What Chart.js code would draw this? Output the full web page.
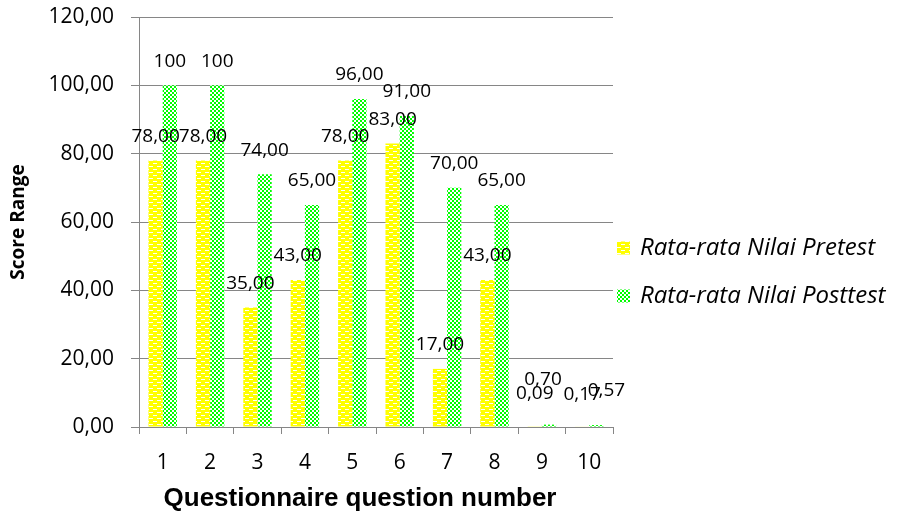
<!DOCTYPE html>
<html lang="id">
<head>
<meta charset="UTF-8">
<title>Rata-rata Nilai Pretest dan Posttest</title>
<script src="https://cdn.jsdelivr.net/npm/chart.js"></script>
<style>
    body { margin: 0; background: #fff; }
    #wrap { width: 901px; height: 520px; }
</style>
</head>
<body>
<div id="wrap"><canvas id="scoreChart" width="901" height="520"></canvas></div>
<script>
    // data
    const questions = ['1', '2', '3', '4', '5', '6', '7', '8', '9', '10'];
    const pretestScores = [78, 78, 35, 43, 78, 83, 17, 43, 0.09, 0.17];
    const posttestScores = [100, 100, 74, 65, 96, 91, 70, 65, 0.70, 0.57];
    const seriesNames = ['Rata-rata Nilai Pretest', 'Rata-rata Nilai Posttest'];
    const xTitleText = 'Questionnaire question number';
    const yTitleText = 'Score Range';
    const yMax = 120;
    const yStep = 20;

    // the tiny values at questions 9 and 10 have their labels pushed apart (dx, dy in px)
    const labelNudge = [
        { 8: [0, -9], 9: [0, -8] },
        { 8: [-6, -21], 9: [10, -10] }
    ];

    const gridGray = '#868686';
    const comma = v => v.toFixed(2).replace('.', ',');
    // the original shows the two 100s without decimals
    const labelText = v => (v === 100 ? '100' : comma(v));

    function makePattern(w, h, bg, fg, cells) {
        const c = document.createElement('canvas');
        c.width = w;
        c.height = h;
        const g = c.getContext('2d');
        g.fillStyle = bg;
        g.fillRect(0, 0, w, h);
        g.fillStyle = fg;
        cells.forEach(c => g.fillRect(c[0], c[1], c[2], c[3]));
        return g.createPattern(c, 'repeat');
    }

    // yellow with small white dashes, green/white checkerboard
    const yellowFill = makePattern(8, 6, '#ffff00', '#ffffff', [[1, 1, 4, 1], [5, 4, 3, 1], [0, 4, 1, 1]]);
    const greenFill = makePattern(4, 4, '#ffffff', '#00ff00', [[0, 0, 2, 2], [2, 2, 2, 2]]);

    // value labels above each bar
    const barLabels = {
        id: 'barLabels',
        afterDatasetsDraw(chart, args, opts) {
            const ctx = chart.ctx;
            ctx.save();
            ctx.font = opts.font;
            ctx.fillStyle = opts.color;
            ctx.textAlign = 'center';
            ctx.textBaseline = 'middle';
            chart.data.datasets.forEach((ds, di) => {
                const meta = chart.getDatasetMeta(di);
                const nudge = labelNudge[di] || {};
                meta.data.forEach((bar, i) => {
                    const d = nudge[i] || [0, 0];
                    ctx.fillText(labelText(ds.data[i]), bar.x + d[0], bar.y - opts.lift + d[1]);
                });
            });
            ctx.restore();
        }
    };

    // legend to the right of the plot
    const sideLegend = {
        id: 'sideLegend',
        afterDraw(chart, args, opts) {
            const ctx = chart.ctx;
            const x = chart.chartArea.right + opts.offsetX;
            ctx.save();
            ctx.font = opts.font;
            ctx.textBaseline = 'middle';
            chart.data.datasets.forEach((ds, i) => {
                const y = opts.y + i * opts.gap;
                ctx.fillStyle = ds.backgroundColor;
                ctx.fillRect(x, y - opts.box / 2, opts.box, opts.box);
                ctx.fillStyle = opts.color;
                ctx.fillText(ds.label, x + opts.box + opts.textGap, y);
            });
            ctx.restore();
        }
    };

    // x axis title, sits a little left of the plot centre in the original
    const xAxisTitle = {
        id: 'xAxisTitle',
        afterDraw(chart, args, opts) {
            const s = chart.scales.x;
            const ctx = chart.ctx;
            ctx.save();
            ctx.font = opts.font;
            ctx.fillStyle = opts.color;
            ctx.textAlign = 'center';
            ctx.textBaseline = 'middle';
            ctx.fillText(opts.text, (s.left + s.right) / 2 + opts.dx, s.bottom - opts.fromBottom);
            ctx.restore();
        }
    };

    Chart.defaults.font.family = "'Open Sans', sans-serif";
    Chart.defaults.color = '#000';

    new Chart(document.getElementById('scoreChart'), {
        type: 'bar',
        data: {
            labels: questions,
            datasets: [
                { label: seriesNames[0], data: pretestScores, backgroundColor: yellowFill, borderWidth: 0 },
                { label: seriesNames[1], data: posttestScores, backgroundColor: greenFill, borderWidth: 0 }
            ]
        },
        options: {
            responsive: false,
            animation: false,
            datasets: { bar: { categoryPercentage: 0.6, barPercentage: 1.0 } },
            layout: { padding: { top: 17, right: 288, bottom: 0, left: 0 } },
            scales: {
                x: {
                    grid: { drawOnChartArea: false, tickLength: 7, color: gridGray, offset: true },
                    border: { color: gridGray },
                    ticks: { padding: 16, font: { size: 21 } },
                    afterFit(scale) { scale.height = 93; }
                },
                y: {
                    min: 0,
                    max: yMax,
                    ticks: { stepSize: yStep, padding: 17, font: { size: 21 }, callback: v => comma(v) },
                    grid: { color: gridGray, tickLength: 8 },
                    border: { color: gridGray },
                    title: {
                        display: true,
                        text: yTitleText,
                        font: { weight: 'bold', size: 19 },
                        padding: { top: 7, bottom: 0 }
                    },
                    afterFit(scale) {
                        scale.width = 139;
                        // plot top is set by layout padding, not by the tick label padding
                        scale.paddingTop = 0;
                        scale.paddingBottom = 0;
                    }
                }
            },
            plugins: {
                legend: { display: false },
                tooltip: { enabled: false },
                barLabels: {
                    font: "19px 'Open Sans', sans-serif",
                    color: '#000',
                    lift: 24
                },
                sideLegend: {
                    font: "italic 24px 'Open Sans', sans-serif",
                    color: '#000',
                    offsetX: 4,
                    y: 248,
                    gap: 48,
                    box: 13,
                    textGap: 10
                },
                xAxisTitle: {
                    text: xTitleText,
                    font: "bold 26px 'Liberation Sans', Arial, sans-serif",
                    color: '#000',
                    dx: -16,
                    fromBottom: 21
                }
            }
        },
        plugins: [barLabels, sideLegend, xAxisTitle]
    });
</script>
</body>
</html>
